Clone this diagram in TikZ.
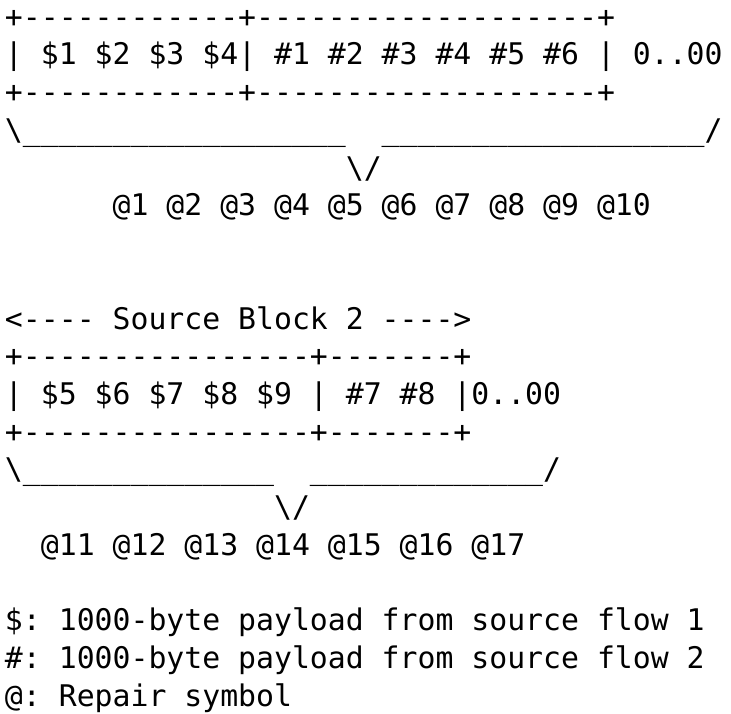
\documentclass[tikz,border=0pt]{standalone}
\usepackage{fontspec}
\setmonofont{DejaVu Sans Mono}
\ExplSyntaxOn
\NewDocumentCommand\Rep{mm}{\prg_replicate:nn{#1}{#2}}
\ExplSyntaxOff
\tikzset{
  asc/.style={anchor=base west, inner sep=0pt, outer sep=0pt,
    font=\ttfamily\fontsize{29.8}{37.7}\selectfont, text=black}
}
\begin{document}
\begin{tikzpicture}[x=1pt,y=1pt]
\fill[white] (0,0) rectangle (731,-714);
\useasboundingbox (0,0) rectangle (731,-714);
\node[asc] (l1)  at (5,-27.3)  {+\Rep{12}{-}+\Rep{19}{-}+};
\node[asc] (l2)  at (5,-65)    {|~\$1~\$2~\$3~\$4|~\#1~\#2~\#3~\#4~\#5~\#6~|~0..00};
\node[asc] (l3)  at (5,-102.7) {+\Rep{12}{-}+\Rep{19}{-}+};
\node[asc] (l4)  at (5,-140.4) {\textbackslash\Rep{18}{\_}~~\Rep{18}{\_}/};
\node[asc] (l5)  at (5,-178.1) {\Rep{19}{~}\textbackslash/};
\node[asc] (l6)  at (5,-215.8) {~~~~~~@1~@2~@3~@4~@5~@6~@7~@8~@9~@10};
\node[asc] (l9)  at (5,-329)   {<----~Source~Block~2~---->};
\node[asc] (l10) at (5,-366.7) {+\Rep{16}{-}+\Rep{7}{-}+};
\node[asc] (l11) at (5,-404.4) {|~\$5~\$6~\$7~\$8~\$9~|~\#7~\#8~|0..00};
\node[asc] (l12) at (5,-442.1) {+\Rep{16}{-}+\Rep{7}{-}+};
\node[asc] (l13) at (5,-479.8) {\textbackslash\Rep{14}{\_}~~\Rep{13}{\_}/};
\node[asc] (l14) at (5,-517.5) {\Rep{15}{~}\textbackslash/};
\node[asc] (l15) at (5,-555.2) {~~@11~@12~@13~@14~@15~@16~@17};
\node[asc] (l17) at (5,-630.6) {\$:~1000-byte~payload~from~source~flow~1};
\node[asc] (l18) at (5,-668.3) {\#:~1000-byte~payload~from~source~flow~2};
\node[asc] (l19) at (5,-706)   {@:~Repair~symbol};
\end{tikzpicture}
\end{document}
